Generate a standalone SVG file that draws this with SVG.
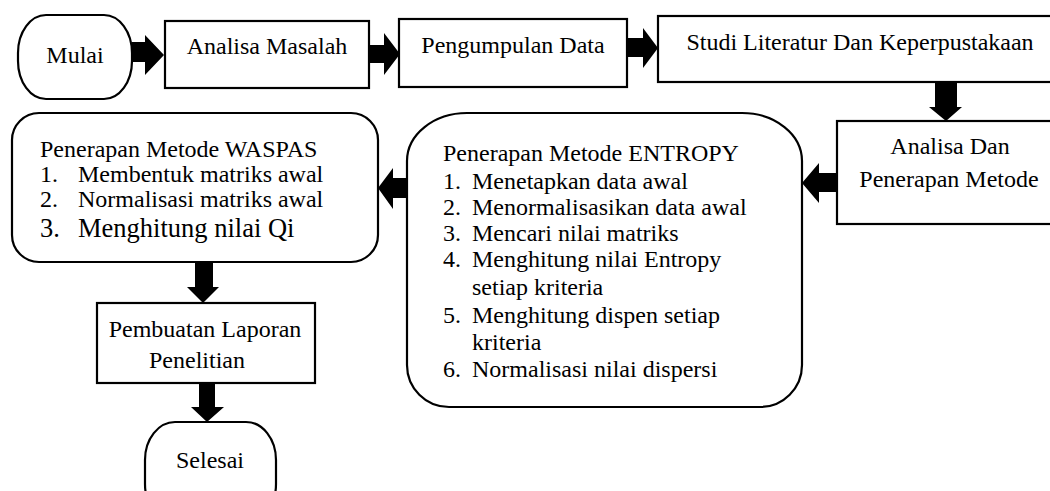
<svg xmlns="http://www.w3.org/2000/svg" width="1050" height="491" viewBox="0 0 1050 491" font-family="'Liberation Serif', 'DejaVu Serif', serif">
  <style>
    .box { fill: #ffffff; stroke: #000000; stroke-width: 2.2; }
    .arrow { fill: #000000; stroke: none; }
    text { font-family: 'Liberation Serif', 'DejaVu Serif', serif; font-size: 24px; fill: #000000; }
    .c { text-anchor: middle; }
    .big { font-size: 26.5px; }
  </style>
  <rect width="1050" height="491" fill="#ffffff"/>

  <g id="connectors">
    <path class="arrow" d="M132,42 H145 V35 L164,55 L145,75 V62 H132 Z"/>
    <path class="arrow" d="M369,45 H384 V33 L400,54 L384,75 V63 H369 Z"/>
    <path class="arrow" d="M627,38 H643 V28 L658,48 L643,68 V57 H627 Z"/>
    <path class="arrow" d="M935,82 V107 H929 L946,121 L962,107 H957 V82 Z"/>
    <path class="arrow" d="M837,173 H819 V163 L802,183 L819,203 V192 H837 Z"/>
    <path class="arrow" d="M407,178 H393 V168 L378,188 L393,209 V198 H407 Z"/>
    <path class="arrow" d="M195,262 V287 H187 L203,303 L219,287 H213 V262 Z"/>
    <path class="arrow" d="M199,383 V407 H191 L207,422 L224,407 H215 V383 Z"/>
  </g>

  <g id="mulai">
    <rect class="box" x="18" y="15" width="114" height="84" rx="28" ry="38"/>
    <text class="c" x="75" y="63">Mulai</text>
  </g>

  <g id="analisa-masalah">
    <rect class="box" x="165" y="21" width="204" height="67"/>
    <text class="c" x="267" y="54">Analisa Masalah</text>
  </g>

  <g id="pengumpulan-data">
    <rect class="box" x="399" y="19" width="228" height="68"/>
    <text class="c" x="513" y="53">Pengumpulan Data</text>
  </g>

  <g id="studi-literatur">
    <rect class="box" x="658" y="16" width="396" height="66"/>
    <text class="c" x="860" y="50">Studi Literatur Dan Keperpustakaan</text>
  </g>

  <g id="analisa-penerapan">
    <rect class="box" x="837" y="121" width="217" height="103"/>
    <text class="c" x="950" y="154">Analisa Dan</text>
    <text class="c" x="949" y="187">Penerapan Metode</text>
  </g>

  <g id="metode-entropy">
    <path class="box" d="M467,113 H742 A60,48 0 0 1 802,161 V365 A42,42 0 0 1 760,407 H449 A42,42 0 0 1 407,365 V161 A60,48 0 0 1 467,113 Z"/>
    <text x="443" y="161">Penerapan Metode ENTROPY</text>
    <text x="443" y="189">1.</text><text x="472" y="189">Menetapkan data awal</text>
    <text x="443" y="215">2.</text><text x="472" y="215">Menormalisasikan data awal</text>
    <text x="443" y="241">3.</text><text x="472" y="241">Mencari nilai matriks</text>
    <text x="443" y="267">4.</text><text x="472" y="267">Menghitung nilai Entropy</text>
    <text x="472" y="295">setiap kriteria</text>
    <text x="443" y="323">5.</text><text x="472" y="323">Menghitung dispen setiap</text>
    <text x="472" y="350">kriteria</text>
    <text x="443" y="377">6.</text><text x="472" y="377">Normalisasi nilai dispersi</text>
  </g>

  <g id="metode-waspas">
    <rect class="box" x="12" y="113" width="366" height="149" rx="27" ry="27"/>
    <text x="40" y="157">Penerapan Metode WASPAS</text>
    <text x="40" y="182">1.</text><text x="78" y="182">Membentuk matriks awal</text>
    <text x="40" y="207">2.</text><text x="78" y="207">Normalisasi matriks awal</text>
    <text class="big" x="40" y="237">3.</text><text class="big" x="78" y="237">Menghitung nilai Qi</text>
  </g>

  <g id="pembuatan-laporan">
    <rect class="box" x="97" y="303" width="218" height="80"/>
    <text class="c" x="205" y="337">Pembuatan Laporan</text>
    <text class="c" x="197" y="368">Penelitian</text>
  </g>

  <g id="selesai">
    <rect class="box" x="145" y="422" width="131" height="100" rx="30" ry="38"/>
    <text class="c" x="210" y="468">Selesai</text>
  </g>
</svg>
